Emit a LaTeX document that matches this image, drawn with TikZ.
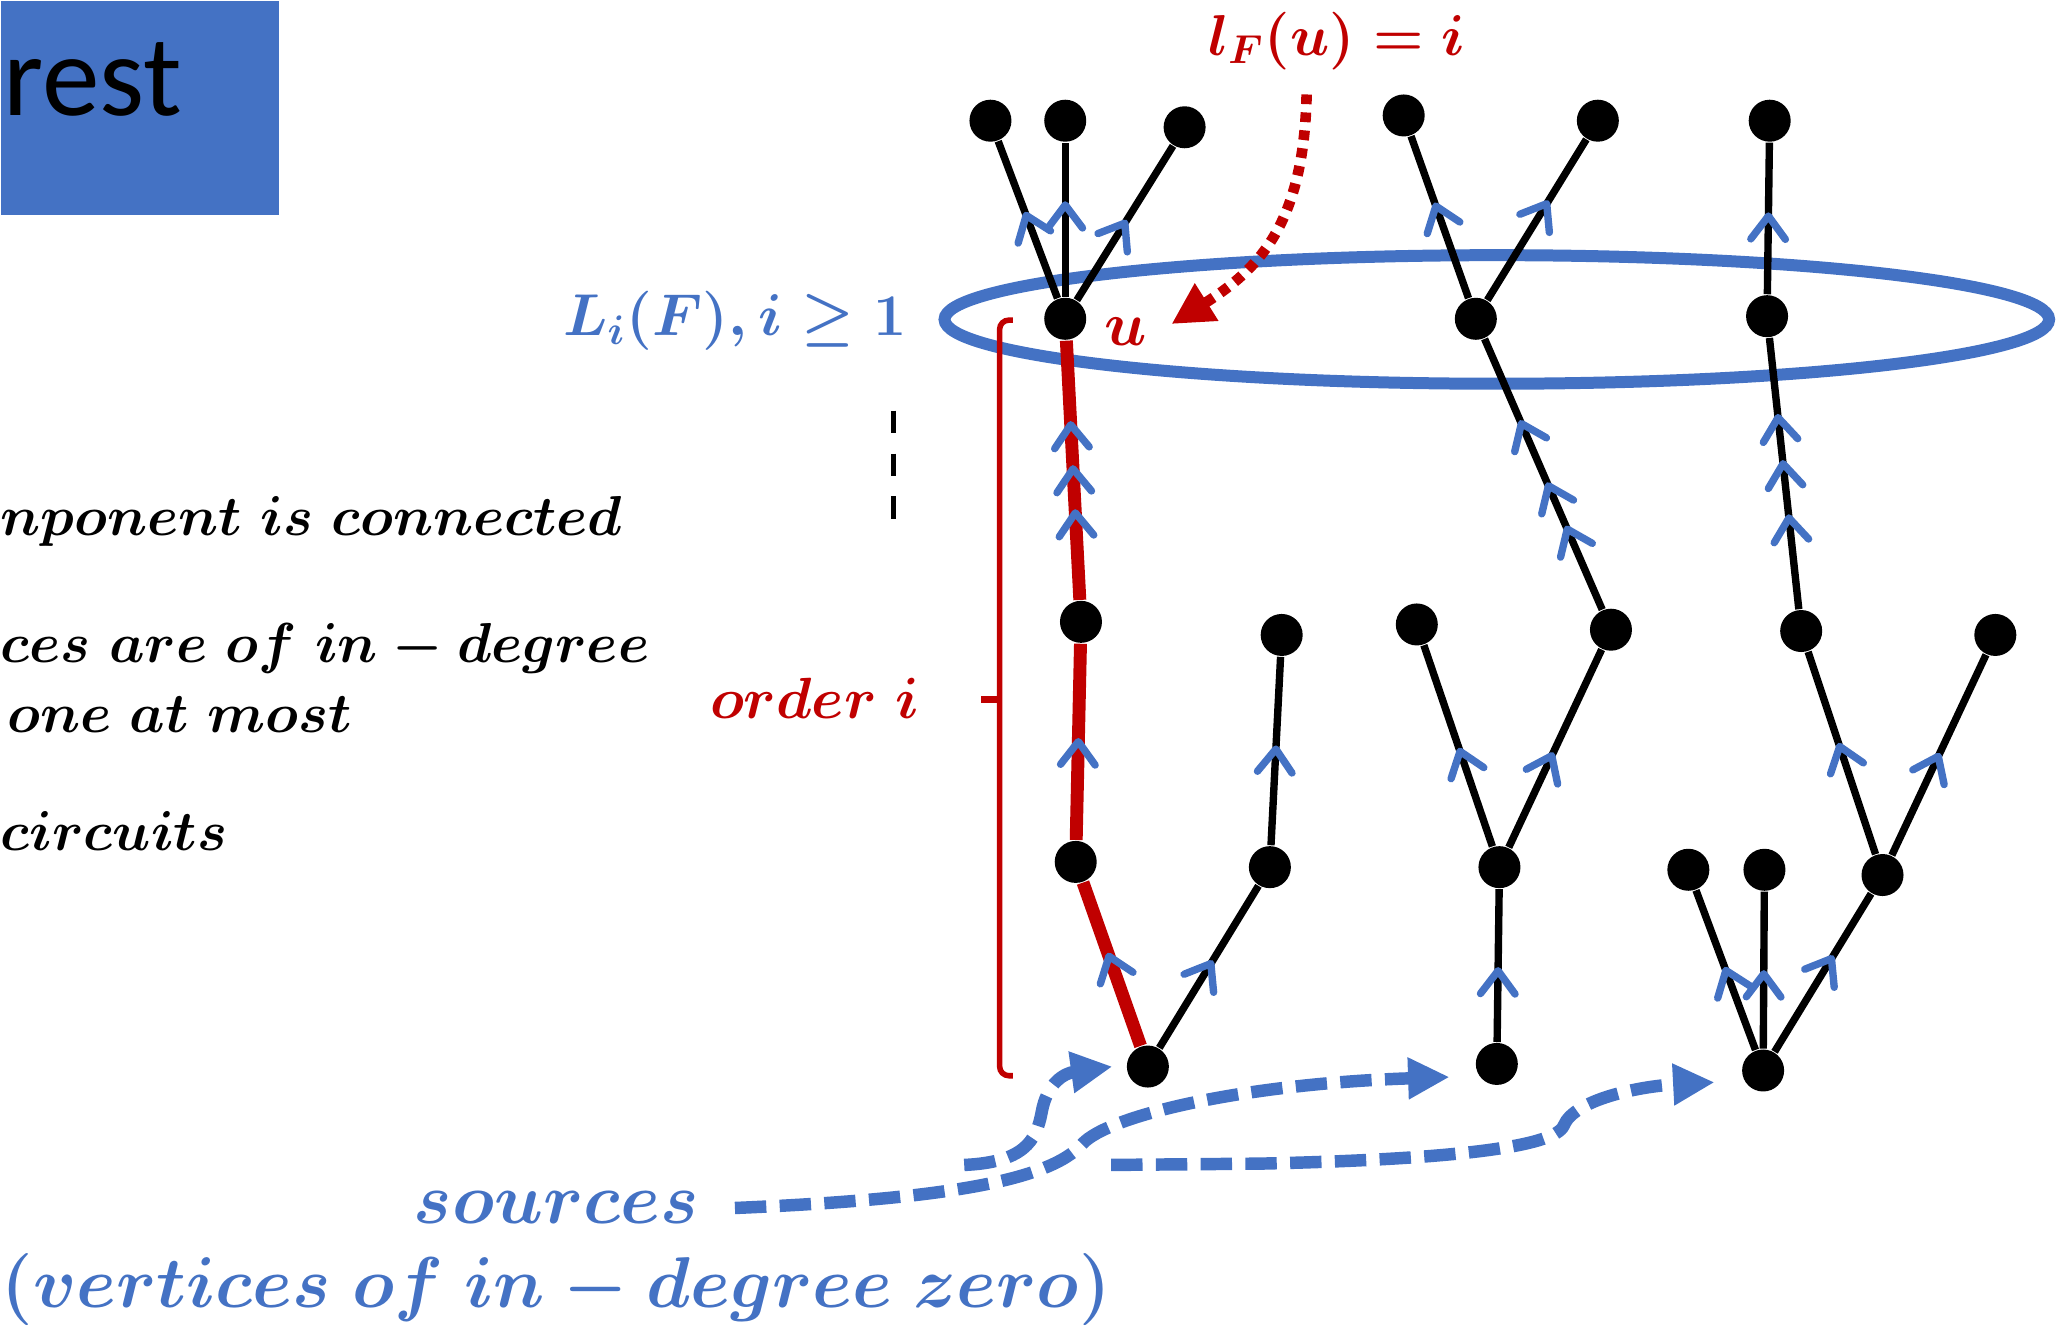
\RequirePackage{fix-cm}
\documentclass[tikz,border=0pt]{standalone}
\usepackage{fontspec}
\newfontfamily\titlefont{Carlito}
\usetikzlibrary{arrows.meta,decorations.markings,positioning}
\definecolor{blu}{HTML}{4472C4}
\definecolor{redc}{HTML}{C00000}
\tikzset{
  vtx/.style={circle,fill=black,minimum size=0.32cm,inner sep=0pt},
  edg/.style={draw,line width=1.6pt},
  redg/.style={draw=redc,line width=2.8pt},
  mk/.style={postaction={decorate,decoration={markings,mark=at position #1 with {\arrow[blu]{Straight Barb[length=5pt,width=7.5pt,line width=1.6pt,round]}}}}},
  txtk/.style={inner sep=0pt,anchor=base west,font=\fontsize{12.2}{15}\selectfont\boldmath},
  txtb/.style={inner sep=0pt,anchor=base,text=blu,font=\fontsize{15.6}{19}\selectfont\boldmath},
  txtr/.style={inner sep=0pt,anchor=base,text=redc,font=\fontsize{13.5}{16}\selectfont\boldmath},
  srcarr/.style={blu,line width=2.7pt,dash pattern=on 6.8pt off 2.9pt,-{Triangle[length=9pt,width=8.5pt]}},
  lfarr/.style={redc,line width=2.3pt,dash pattern=on 2.1pt off 1.8pt,-{Triangle[length=9pt,width=9pt]}},
}
\begin{document}
\begin{tikzpicture}[x=0.01cm,y=-0.01cm]
    \useasboundingbox (0,0) rectangle (1568,1011);
    \node [fill=blu,anchor=north west,minimum width=2.12cm,minimum height=1.63cm,inner sep=0pt] (title) at (0,0) {};
    \node [anchor=base west,inner sep=0pt,font=\titlefont\fontsize{25}{30}\selectfont] (rest) at (2,88) {rest};
    \draw [blu,line width=2.6pt] (1141,243.5) ellipse [x radius=421,y radius=49];
    \node [txtk] (c1) at (0,408) {$nponent\ is\ connected$};
    \node [txtk] (c2) at (0,505) {$ces\ are\ of\ in - degree$};
    \node [txtk] (c3) at (5,558) {$one\ at\ most$};
    \node [txtk] (c4) at (0,648) {$circuits$};
    \node [txtb,font=\fontsize{12.8}{16}\selectfont\boldmath] (lif) at (560,256) {$L_i(F), i \geq 1$};
    \node [txtr,font=\fontsize{12.5}{16}\selectfont\boldmath] (lfu) at (1019,42) {$l_F(u) = i$};
    \node [txtr] (ulab) at (858,263) {$u$};
    \node [txtr,font=\fontsize{12.6}{16}\selectfont\boldmath] (ord) at (621,548) {$order\ i$};
    \node [txtb] (src) at (424,933) {$sources$};
    \node [txtb] (vzero) at (424,997) {$(vertices\ of\ in - degree\ zero)$};
    \draw [line width=1.2pt,dash pattern=on 4.8pt off 4.5pt] (681,313) -- (681,396);
    \draw [redc,line width=1.2pt,rounded corners=2pt] (772,244) -- (762,244) -- (762,820) -- (772,820);
    \draw [redc,line width=1.6pt] (762,533) -- (748,533);
    \foreach \n/\x/\y in {t1a/755/92,t1b/812/92,t1c/903/97,u/812/243,t1d/824/474,t1e/977/484,t1f/820/657,t1g/968/661,s1/875/813,
        t2a/1070/88,t2b/1218/92,t2c/1125/243,t2d/1080/476,t2e/1228/480,t2f/1143/661,s2/1141/811,
        t3a/1349/92,t3b/1347/241,t3c/1373/481,t3d/1521/484,t3e/1287/663,t3f/1345/663,t3g/1435/667,s3/1344/816}
        \node [vtx] (\n) at (\x,\y) {};
    \draw [edg,mk=0.55] (u) -- (t1a);
    \draw [edg,mk=0.62] (u) -- (t1b);
    \draw [edg,mk=0.52] (u) -- (t1c);
    \draw [redg,mk=0.35,mk=0.52,mk=0.69] (t1d) -- (u);
    \draw [redg,mk=0.52] (t1f) -- (t1d);
    \draw [redg,mk=0.57] (s1) -- (t1f);
    \draw [edg,mk=0.54] (s1) -- (t1g);
    \draw [edg,mk=0.53] (t1g) -- (t1e);
    \draw [edg,mk=0.59] (t2c) -- (t2a);
    \draw [edg,mk=0.62] (t2c) -- (t2b);
    \draw [edg,mk=0.31,mk=0.47,mk=0.70] (t2e) -- (t2c);
    \draw [edg,mk=0.49] (t2f) -- (t2d);
    \draw [edg,mk=0.48] (t2f) -- (t2e);
    \draw [edg,mk=0.49] (s2) -- (t2f);
    \draw [edg,mk=0.54] (t3b) -- (t3a);
    \draw [edg,mk=0.35,mk=0.55,mk=0.72] (t3c) -- (t3b);
    \draw [edg,mk=0.55] (t3g) -- (t3c);
    \draw [edg,mk=0.51] (t3g) -- (t3d);
    \draw [edg,mk=0.52] (s3) -- (t3e);
    \draw [edg,mk=0.50] (s3) -- (t3f);
    \draw [edg,mk=0.61] (s3) -- (t3g);
    \coordinate (lfs) at (996,72);
    \coordinate (lft) at (893,247);
    \draw [lfarr] (lfs) .. controls (994,170) and (960,205) .. (lft);
    \coordinate (a1) at (848,813);
    \coordinate (a2) at (1105,821);
    \coordinate (a3) at (1307,825);
    \coordinate (b1) at (735,888);
    \coordinate (b2) at (847,888);
    \draw [srcarr] ([xshift=0.27cm]src.east) .. controls (720,914) and (800,900) .. (825,872) .. controls (845,850) and (950,826) .. (a2);
    \draw [srcarr] (b1) .. controls (780,886) and (790,870) .. (794,848) .. controls (798,825) and (812,818) .. (a1);
    \draw [srcarr] (b2) -- (960,887) .. controls (1100,884) and (1185,875) .. (1192,858) .. controls (1200,838) and (1250,828) .. (a3);
\end{tikzpicture}
\end{document}
